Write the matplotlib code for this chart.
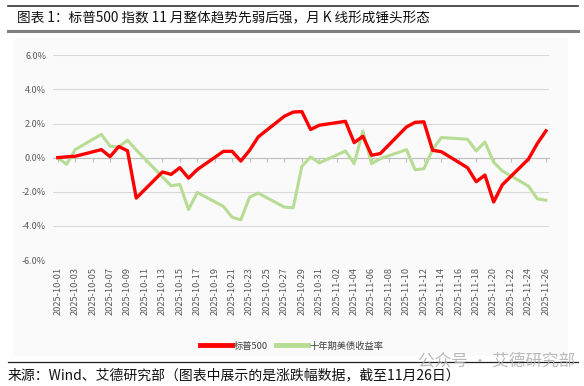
#!/usr/bin/env python3
"""图表 1：标普500 与十年期美债收益率涨跌幅"""
import numpy as np
import pandas as pd
import matplotlib
matplotlib.use('Agg')
import matplotlib.pyplot as plt
import matplotlib.dates as mdates
from matplotlib.patches import Rectangle
from matplotlib.lines import Line2D

plt.rcParams['font.family'] = ['Noto Sans CJK SC', 'DejaVu Sans']

# ---------------- data (涨跌幅, %) ----------------
dates = ['2025-10-01', '2025-10-02', '2025-10-03', '2025-10-06', '2025-10-07',
         '2025-10-08', '2025-10-09', '2025-10-10', '2025-10-13', '2025-10-14',
         '2025-10-15', '2025-10-16', '2025-10-17', '2025-10-20', '2025-10-21',
         '2025-10-22', '2025-10-23', '2025-10-24', '2025-10-27', '2025-10-28',
         '2025-10-29', '2025-10-30', '2025-10-31', '2025-11-03', '2025-11-04',
         '2025-11-05', '2025-11-06', '2025-11-07', '2025-11-10', '2025-11-11',
         '2025-11-12', '2025-11-13', '2025-11-14', '2025-11-17', '2025-11-18',
         '2025-11-19', '2025-11-20', '2025-11-21', '2025-11-24', '2025-11-25',
         '2025-11-26']
spx = [0.00, 0.05, 0.08, 0.47, 0.06,
       0.65, 0.40, -2.37, -0.84, -0.98,
       -0.59, -1.20, -0.70, 0.37, 0.37,
       -0.20, 0.43, 1.22, 2.43, 2.67,
       2.70, 1.65, 1.90, 2.13, 0.88,
       1.25, 0.14, 0.24, 1.80, 2.07,
       2.10, 0.43, 0.35, -0.59, -1.41,
       -1.02, -2.60, -1.59, -0.08, 0.82,
       1.57]
ust10y = [0.00, -0.39, 0.47, 1.37, 0.67,
          0.63, 1.02, 0.45, np.nan, -1.65,
          -1.57, -3.04, -2.04, -2.86, -3.49,
          -3.65, -2.31, -2.08, -2.90, -2.94,
          -0.51, 0.04, -0.31, 0.39, -0.35,
          1.57, -0.35, -0.06, 0.47, -0.71,
          -0.65, 0.47, 1.18, 1.08, 0.39,
          0.92, -0.27, -0.78, -1.67, -2.41,
          -2.50]
yticks = [-6, -4, -2, 0, 2, 4, 6]

title = '图表 1：标普500 指数 11 月整体趋势先弱后强，月 K 线形成锤头形态'
source = '来源：Wind、艾德研究部（图表中展示的是涨跌幅数据，截至11月26日）'

# ---------------- figure ----------------
W, H = 584, 386
fig = plt.figure(figsize=(W / 100, H / 100), dpi=100)

def fx(px): return px / W
def fy(py): return 1 - py / H

# header rules + title
fig.add_artist(Line2D([fx(8), fx(578)], [fy(5.5), fy(5.5)], color='#333333', lw=1.2))
fig.add_artist(Line2D([fx(8), fx(578)], [fy(31), fy(31)], color='#7f7f7f', lw=2.2))
fig.text(fx(17), fy(18), title, fontsize=9.8, va='center', ha='left', color='#111111')

# faint chart-area background
fig.add_artist(Rectangle((fx(13), fy(356)), fx(568) - fx(13), fy(38) - fy(356),
                         facecolor='#FAFAFA', edgecolor='none', zorder=-5))

# footer
fig.add_artist(Line2D([fx(8), fx(578)], [fy(362), fy(362)], color='#222222', lw=0.9))
fig.text(fx(8), fy(375), source, fontsize=10, va='center', ha='left', color='#111111')
fig.text(fx(575), fy(361), '公众号 · 艾德研究部', fontsize=12, va='center', ha='right',
         color='#B0B0B0', alpha=0.85)

ax = fig.add_axes([fx(53), fy(260), fx(549) - fx(53), fy(55.3) - fy(260)])
ax.set_facecolor('none')

d = pd.to_datetime(dates)
s_spx = pd.Series(spx, index=d)
s_ust = pd.Series(ust10y, index=d).dropna()

ax.plot(s_ust.index, s_ust.values, color='#B7DC93', lw=2.2, solid_joinstyle='round',
        label='十年期美债收益率', zorder=3)
ax.plot(s_spx.index, s_spx.values, color='#FF0000', lw=2.4, solid_joinstyle='round',
        label='标普500', zorder=4)

ax.set_ylim(-6, 6)
ax.set_yticks(yticks)
ax.set_yticklabels([f'{v:.1f}%' for v in yticks], fontsize=6.5, color='#595959')
ax.grid(axis='y', color='#D9D9D9', lw=0.8)
ax.tick_params(axis='y', length=0, pad=5)

x0 = pd.Timestamp('2025-10-01')
x1 = pd.Timestamp('2025-11-26')
ax.set_xlim(x0 - pd.Timedelta(days=0.55), x1 + pd.Timedelta(days=0.35))
xt = pd.date_range(x0, x1, freq='2D')

# axis line at 0 with short ticks
for sp in ['top', 'right', 'left']:
    ax.spines[sp].set_visible(False)
ax.spines['bottom'].set_position(('data', 0))
ax.spines['bottom'].set_color('#BFBFBF')
ax.set_xticks(xt)
ax.tick_params(axis='x', direction='out', length=3, color='#BFBFBF', labelbottom=False)

# date labels at the bottom
sec = ax.secondary_xaxis(0)
sec.set_xticks(xt)
sec.xaxis.set_major_formatter(mdates.DateFormatter('%Y-%m-%d'))
sec.tick_params(axis='x', length=0, pad=5, labelsize=6.7, labelcolor='#595959',
                labelrotation=90)
sec.spines['bottom'].set_visible(False)

h, l = ax.get_legend_handles_labels()
leg = fig.legend(h[::-1], l[::-1], loc='center', bbox_to_anchor=(fx(292), fy(346)),
                 ncol=2, frameon=False, fontsize=6.7, handlelength=3.4,
                 handletextpad=0.2, columnspacing=0.9)
for ln in leg.get_lines():
    ln.set_linewidth(3.5)
for t in leg.get_texts():
    t.set_color('#404040')

fig.savefig('out.png', dpi=100)
